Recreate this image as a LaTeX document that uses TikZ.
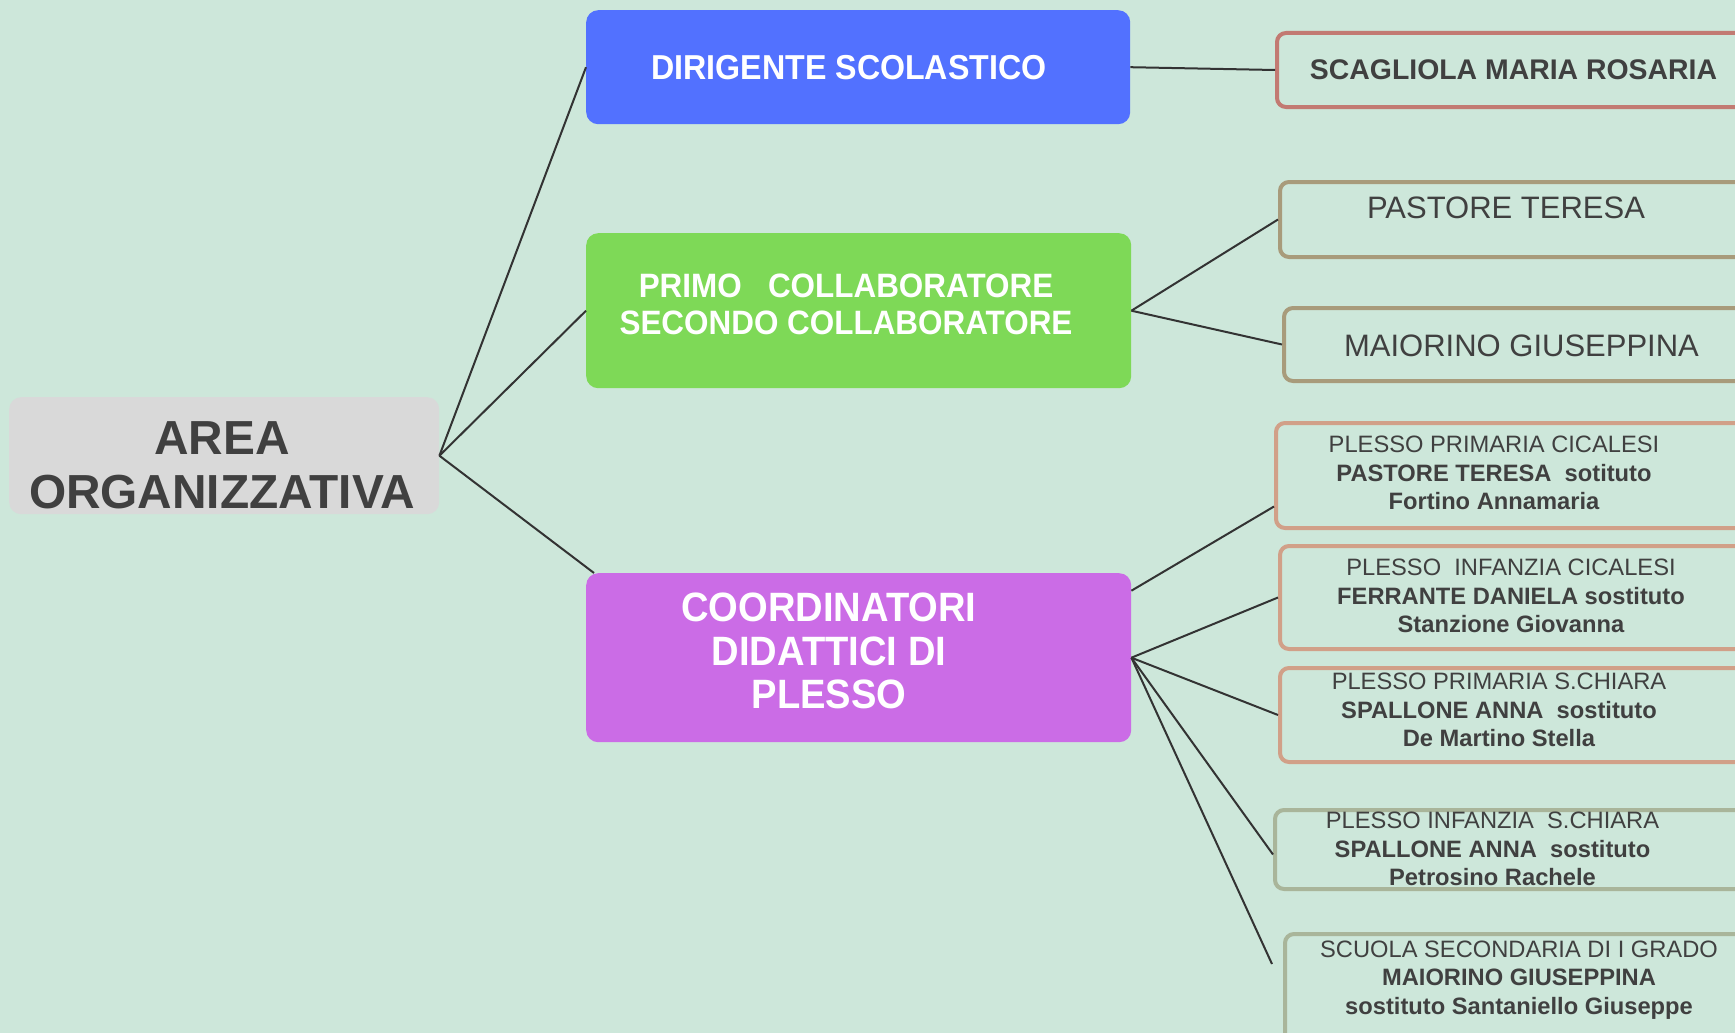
\documentclass[tikz,border=0pt]{standalone}
\usepackage{fontspec}
\setmainfont{Liberation Sans}
\newfontfamily\headfont[FakeStretch=0.93]{Liberation Sans}
\definecolor{bg}{HTML}{CDE7DA}
\definecolor{areaC}{HTML}{D9D9D9}
\definecolor{dirC}{HTML}{5271FF}
\definecolor{primoC}{HTML}{7ED957}
\definecolor{coordC}{HTML}{CB6CE6}
\definecolor{txt}{HTML}{404040}
\definecolor{lineC}{HTML}{333333}
\definecolor{scagB}{HTML}{C27A72}
\definecolor{pastB}{HTML}{A89B7B}
\definecolor{salB}{HTML}{D1A088}
\definecolor{grnB}{HTML}{A9B59A}
\begin{document}
\begin{tikzpicture}[x=1pt,y=-1pt,
  conn/.style={draw=lineC, line width=2pt},
  lbox/.style={rectangle, rounded corners=12pt, draw=none, inner sep=0pt, anchor=north west},
  rbox/.style={rectangle, rounded corners=9pt, line width=4pt, fill=none, inner sep=0pt, anchor=north west, minimum width=480pt},
  htitle/.style={text=white, align=center, inner sep=0pt},
  rtext/.style={text=txt, align=center, inner sep=0pt},
  small/.style={font=\fontsize{23.7}{28.5}\selectfont}
]
\useasboundingbox (0,0) rectangle (1735,1033);
\clip (0,0) rectangle (1735,1033);
\fill[bg] (0,0) rectangle (1735,1033);

% left boxes
\node[lbox, fill=areaC, minimum width=430pt, minimum height=117pt] (area) at (9,397) {};
\node[lbox, fill=dirC, minimum width=544pt, minimum height=114pt] (dir) at (586,10) {};
\node[lbox, fill=primoC, minimum width=545pt, minimum height=155pt] (primo) at (586,233) {};
\node[lbox, fill=coordC, minimum width=545pt, minimum height=169pt] (coord) at (586,573) {};

% left texts
\node[rtext, font=\bfseries\fontsize{47.8}{54}\selectfont] (tarea) at (222,465) {AREA\\ORGANIZZATIVA};
\node[htitle, font=\headfont\bfseries\fontsize{34.6}{40}\selectfont] (tdir) at (849,68) {DIRIGENTE SCOLASTICO};
\node[htitle, font=\headfont\bfseries\fontsize{33.8}{37}\selectfont] (tprimo) at (846,304.5) {PRIMO\ \ \ COLLABORATORE\\SECONDO COLLABORATORE};
\node[htitle, font=\headfont\bfseries\fontsize{41}{43.5}\selectfont] (tcoord) at (829,651.3) {COORDINATORI\\DIDATTICI DI\\PLESSO};

% right boxes
\node[rbox, draw=scagB, minimum height=74pt] (scag) at (1275,31) {};
\node[rbox, draw=pastB, minimum height=75pt] (past) at (1278,180) {};
\node[rbox, draw=pastB, minimum height=73pt] (mai) at (1282,306) {};
\node[rbox, draw=salB, minimum height=105pt] (ppc) at (1274,421) {};
\node[rbox, draw=salB, minimum height=103pt] (pic) at (1278,544) {};
\node[rbox, draw=salB, minimum height=94pt] (pps) at (1278,666) {};
\node[rbox, draw=grnB, minimum height=79pt] (pis) at (1273,808) {};
\node[rbox, draw=grnB, minimum height=130pt] (ssg) at (1283,932) {};

% right texts
\node[rtext, font=\bfseries\fontsize{28.4}{34}\selectfont] (tscag) at (1513.5,70) {SCAGLIOLA MARIA ROSARIA};
\node[rtext, font=\fontsize{31}{36}\selectfont] (tpast) at (1506,208) {PASTORE TERESA};
\node[rtext, font=\fontsize{31}{36}\selectfont] (tmai) at (1521.5,346) {MAIORINO GIUSEPPINA};
\node[rtext, small] (tppc) at (1494,473.3) {PLESSO PRIMARIA CICALESI\\\textbf{PASTORE TERESA\ \ sotituto}\\\textbf{Fortino Annamaria}};
\node[rtext, small] (tpic) at (1511,596) {PLESSO\ \ INFANZIA CICALESI\\\textbf{FERRANTE DANIELA sostituto}\\\textbf{Stanzione Giovanna}};
\node[rtext, small] (tpps) at (1499,710) {PLESSO PRIMARIA S.CHIARA\\\textbf{SPALLONE ANNA\ \ sostituto}\\\textbf{De Martino Stella}};
\node[rtext, small] (tpis) at (1492.5,849) {PLESSO INFANZIA\ \ S.CHIARA\\\textbf{SPALLONE ANNA\ \ sostituto}\\\textbf{Petrosino Rachele}};
\node[rtext, small] (tssg) at (1519,980) {SCUOLA SECONDARIA DI I GRADO\\\textbf{MAIORINO GIUSEPPINA}\\\textbf{sostituto Santaniello Giuseppe}};

\coordinate (essg) at (1272,964);

% connectors
\draw[conn] (area.east) -- (dir.west);
\draw[conn] (area.east) -- (primo.west);
\draw[conn] (area.east) -- ([xshift=8pt]coord.north west);
\draw[conn] (dir.east) -- (scag.west);
\draw[conn] (primo.east) -- (past.west);
\draw[conn] (primo.east) -- (mai.west);
\draw[conn] ([yshift=67pt]coord.east) -- ([yshift=-31pt]ppc.west);
\draw[conn] (coord.east) -- (pic.west);
\draw[conn] (coord.east) -- (pps.west);
\draw[conn] (coord.east) -- ([yshift=-5pt]pis.west);
\draw[conn] (coord.east) -- (essg);
\end{tikzpicture}
\end{document}
